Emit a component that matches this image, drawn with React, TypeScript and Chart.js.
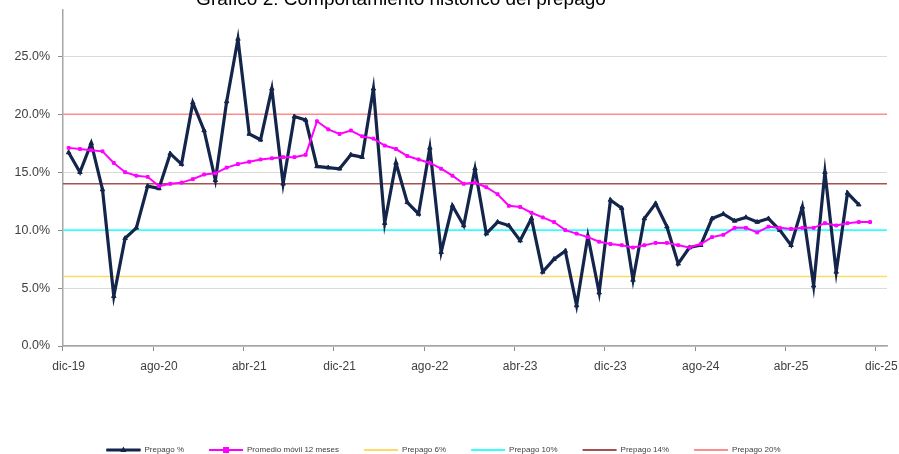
import React, { useEffect, useRef } from 'react';
import { Chart, registerables } from 'chart.js';

Chart.register(...registerables);

const chartTitle = 'Gráfico 2: Comportamiento histórico del prepago';

const months = [
  'dic-19',
  'ene-20', 'feb-20', 'mar-20', 'abr-20', 'may-20', 'jun-20', 'jul-20', 'ago-20', 'sep-20', 'oct-20', 'nov-20', 'dic-20',
  'ene-21', 'feb-21', 'mar-21', 'abr-21', 'may-21', 'jun-21', 'jul-21', 'ago-21', 'sep-21', 'oct-21', 'nov-21', 'dic-21',
  'ene-22', 'feb-22', 'mar-22', 'abr-22', 'may-22', 'jun-22', 'jul-22', 'ago-22', 'sep-22', 'oct-22', 'nov-22', 'dic-22',
  'ene-23', 'feb-23', 'mar-23', 'abr-23', 'may-23', 'jun-23', 'jul-23', 'ago-23', 'sep-23', 'oct-23', 'nov-23', 'dic-23',
  'ene-24', 'feb-24', 'mar-24', 'abr-24', 'may-24', 'jun-24', 'jul-24', 'ago-24', 'sep-24', 'oct-24', 'nov-24', 'dic-24',
  'ene-25', 'feb-25', 'mar-25', 'abr-25', 'may-25', 'jun-25', 'jul-25', 'ago-25', 'sep-25', 'oct-25', 'nov-25', 'dic-25',
];

// Monthly prepayment rate (%)
const prepago = [
  16.7, 15.0, 17.5, 13.5, 4.3, 9.3, 10.2, 13.8, 13.6, 16.6,
  15.7, 21.0, 18.6, 14.3, 21.1, 26.5, 18.3, 17.8, 22.2, 14.0,
  19.8, 19.5, 15.5, 15.4, 15.3, 16.5, 16.3, 22.2, 10.6, 15.8,
  12.4, 11.4, 17.1, 8.1, 12.1, 10.4, 15.3, 9.7, 10.7, 10.4,
  9.1, 11.0, 6.4, 7.5, 8.2, 3.5, 9.5, 4.6, 12.6, 11.9,
  5.7, 11.0, 12.3, 10.3, 7.1, 8.5, 8.7, 11.0, 11.4, 10.8,
  11.1, 10.7, 11.0, 10.0, 8.7, 12.0, 5.2, 15.0, 6.4, 13.2,
  12.2,
];

// 12-month moving average (%)
const promedio12m = [
  17.1, 17.0, 16.9, 16.8, 15.8, 15.0, 14.7, 14.6, 13.8, 14.0,
  14.1, 14.4, 14.8, 14.9, 15.4, 15.7, 15.9, 16.1, 16.2, 16.3,
  16.3, 16.5, 19.4, 18.7, 18.3, 18.6, 18.1, 17.9, 17.3, 17.0,
  16.4, 16.1, 15.8, 15.3, 14.7, 14.0, 14.1, 13.7, 13.1, 12.1,
  12.0, 11.5, 11.1, 10.7, 10.0, 9.7, 9.4, 9.0, 8.8, 8.7,
  8.5, 8.7, 8.9, 8.9, 8.7, 8.5, 8.8, 9.4, 9.6, 10.2,
  10.2, 9.8, 10.3, 10.2, 10.1, 10.2, 10.2, 10.6, 10.4, 10.6,
  10.7, 10.7,
];

const seriesNames = ['Prepago %', 'Promedio móvil 12 meses'];
const seriesColors = ['#14254B', '#FF00FF'];

const thresholdLevels = [6, 10, 14, 20];
const thresholdNames = ['Prepago 6%', 'Prepago 10%', 'Prepago 14%', 'Prepago 20%'];
const thresholdColors = ['#FFD966', '#33FFFF', '#A65050', '#FF8C8C'];

const yTickValues = [0, 5, 10, 15, 20, 25];
const xLabelEvery = 8;

const FONT = "'Liberation Sans', Arial, sans-serif";
const TEXT_COLOR = '#404040';

export default function App() {
  const canvasRef = useRef<HTMLCanvasElement | null>(null);

  useEffect(() => {
    const canvas = canvasRef.current;
    if (!canvas) return;

    const thresholdDatasets = thresholdLevels.map((lvl, i) => ({
      label: thresholdNames[i],
      data: [] as number[],
      borderColor: thresholdColors[i],
      backgroundColor: thresholdColors[i],
      level: lvl,
      order: 5,
    }));

    const titlePlugin = {
      id: 'cutTitle',
      afterDraw(chart: any) {
        const ctx = chart.ctx;
        ctx.save();
        ctx.font = `19px ${FONT}`;
        ctx.fillStyle = '#000';
        ctx.textAlign = 'center';
        ctx.textBaseline = 'alphabetic';
        ctx.fillText(chartTitle, 401, 5);
        ctx.restore();
      },
    };

    const thresholdPlugin = {
      id: 'thresholdLines',
      beforeDatasetsDraw(chart: any) {
        const { ctx, chartArea, scales } = chart;
        ctx.save();
        chart.data.datasets.forEach((ds: any) => {
          if (ds.level === undefined) return;
          const y = scales.y.getPixelForValue(ds.level);
          ctx.strokeStyle = ds.borderColor;
          ctx.lineWidth = 1.6;
          ctx.beginPath();
          ctx.moveTo(chartArea.left, y);
          ctx.lineTo(chartArea.right, y);
          ctx.stroke();
        });
        ctx.restore();
      },
    };

    const legendFitPlugin = {
      id: 'legendFit',
      beforeInit(chart: any) {
        const origFit = chart.legend.fit;
        chart.legend.fit = function fit() {
          origFit.bind(chart.legend)();
          this.height = 33;
        };
      },
    };

    const legendMarkerPlugin = {
      id: 'legendMarkers',
      afterDraw(chart: any) {
        const legend = chart.legend;
        if (!legend || !legend.legendHitBoxes) return;
        const ctx = chart.ctx;
        const boxW = legend.options.labels.boxWidth;
        ctx.save();
        legend.legendHitBoxes.forEach((hb: any, i: number) => {
          const cx = hb.left + boxW / 2;
          const cy = hb.top + 4;
          if (i === 0) {
            ctx.fillStyle = seriesColors[0];
            ctx.fillRect(hb.left, cy - 1.5, boxW, 3);
            ctx.beginPath();
            ctx.moveTo(cx, cy - 3.5);
            ctx.lineTo(cx + 3, cy + 2);
            ctx.lineTo(cx - 3, cy + 2);
            ctx.closePath();
            ctx.fill();
          } else if (i === 1) {
            ctx.fillStyle = seriesColors[1];
            ctx.fillRect(cx - 3, cy - 3, 6, 6);
          }
        });
        ctx.restore();
      },
    };

    const chart = new Chart(canvas, {
      type: 'line',
      data: {
        labels: months,
        datasets: [
          {
            label: seriesNames[0],
            data: prepago,
            borderColor: seriesColors[0],
            backgroundColor: seriesColors[0],
            borderWidth: 3.2,
            pointStyle: 'triangle',
            pointRadius: 2.6,
            pointBackgroundColor: seriesColors[0],
            pointBorderColor: seriesColors[0],
            pointBorderWidth: 1,
            tension: 0,
            order: 1,
          },
          {
            label: seriesNames[1],
            data: promedio12m,
            borderColor: seriesColors[1],
            backgroundColor: seriesColors[1],
            borderWidth: 2,
            pointStyle: 'rect',
            pointRadius: 2,
            pointBackgroundColor: seriesColors[1],
            pointBorderColor: seriesColors[1],
            pointBorderWidth: 1,
            tension: 0,
            order: 0,
          },
          ...thresholdDatasets,
        ] as any,
      },
      options: {
        animation: false,
        responsive: false,
        events: [],
        layout: { padding: { top: 10, right: 12, left: 0, bottom: 0 } },
        plugins: {
          title: { display: false },
          tooltip: { enabled: false },
          legend: {
            display: true,
            position: 'bottom',
            labels: {
              boxWidth: 34,
              boxHeight: 2,
              padding: 25,
              color: TEXT_COLOR,
              font: { family: FONT, size: 8 },
              generateLabels: (c: any) =>
                c.data.datasets.map((ds: any, i: number) => ({
                  text: ds.label,
                  fillStyle: ds.borderColor,
                  strokeStyle: ds.borderColor,
                  lineWidth: 0,
                  hidden: false,
                  datasetIndex: i,
                  fontColor: TEXT_COLOR,
                })),
            },
          },
        },
        scales: {
          x: {
            type: 'category',
            offset: true,
            afterFit: (axis: any) => {
              axis.height = 75;
              axis.paddingLeft = 0;
              axis.paddingRight = 0;
            },
            grid: {
              display: true,
              drawOnChartArea: false,
              offset: true,
              tickLength: 5,
              color: (ctx: any) => (ctx.index % xLabelEvery === 0 ? '#8C8C8C' : 'rgba(0,0,0,0)'),
            },
            border: { display: true, color: '#A6A6A6', width: 1.5 },
            ticks: {
              autoSkip: false,
              maxRotation: 0,
              minRotation: 0,
              padding: 8,
              color: TEXT_COLOR,
              font: { family: FONT, size: 12 },
              callback: function (this: any, value: any, index: number) {
                return index % xLabelEvery === 0 ? months[index] : '';
              },
            },
          },
          y: {
            min: 0,
            max: 29,
            afterBuildTicks: (axis: any) => {
              axis.ticks = yTickValues.map((v) => ({ value: v }));
            },
            afterFit: (axis: any) => {
              axis.width = 63;
              axis.paddingTop = 0;
              axis.paddingBottom = 0;
            },
            grid: {
              display: true,
              color: '#DADADA',
              lineWidth: 1,
              tickLength: 5,
              tickColor: '#8C8C8C',
            },
            border: { display: true, color: '#A6A6A6', width: 1.5 },
            ticks: {
              padding: 8,
              color: TEXT_COLOR,
              font: { family: FONT, size: 12.5 },
              callback: (v: any) => Number(v).toFixed(1) + '%',
            },
          },
        },
      } as any,
      plugins: [legendFitPlugin, thresholdPlugin, legendMarkerPlugin, titlePlugin],
    });

    return () => {
      chart.destroy();
    };
  }, []);

  return (
    <div style={{ position: 'fixed', left: 0, top: 0, width: 899, height: 454, background: '#fff' }}>
      <canvas ref={canvasRef} width={899} height={454} style={{ display: 'block', width: 899, height: 454 }} />
    </div>
  );
}
